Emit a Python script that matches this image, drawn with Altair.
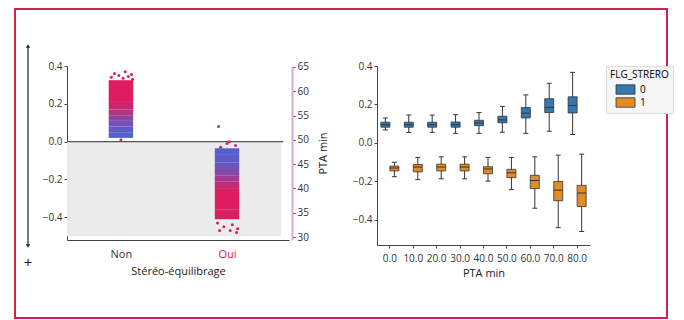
import altair as alt
import pandas as pd

# ---------- left panel data (strip of PTA-coloured points) ----------
seg_group = ["Non"] * 7 + ["Oui"] * 8
seg_y0 = [0.02, 0.05, 0.08, 0.11, 0.14, 0.17, 0.21,
          -0.035, -0.07, -0.11, -0.15, -0.18, -0.21, -0.25, -0.36]
seg_y1 = [0.05, 0.08, 0.11, 0.14, 0.17, 0.21, 0.325,
          -0.07, -0.11, -0.15, -0.18, -0.21, -0.25, -0.36, -0.41]
seg_pta = [31, 34, 38, 44, 52, 58, 62,
           31, 33, 37, 42, 48, 56, 62, 61]

pt_group = ["Non"] * 9 + ["Oui"] * 12
pt_y = [0.37, 0.36, 0.355, 0.35, 0.345, 0.34, 0.335, 0.33, 0.01,
        0.08, 0.0, -0.01, -0.03, -0.02, -0.43, -0.44, -0.45, -0.46, -0.47, -0.47, -0.48]
pt_jit = [0.04, -0.06, 0.10, -0.02, 0.07, -0.09, 0.02, 0.11, 0.0,
          -0.08, 0.02, 0.0, -0.06, 0.08, -0.09, 0.05, -0.03, 0.10, -0.07, 0.03, 0.09]
pt_pta = [63, 62, 64, 61, 63, 62, 60, 64, 58,
          47, 62, 60, 58, 61, 62, 63, 62, 64, 63, 62, 64]

pta_ticks = [30, 35, 40, 45, 50, 55, 60, 65]

# ---------- right panel data (box plots) ----------
cats = ["0.0", "10.0", "20.0", "30.0", "40.0", "50.0", "60.0", "70.0", "80.0"]
g0_lo = [0.068, 0.055, 0.055, 0.050, 0.050, 0.056, 0.050, 0.061, 0.044]
g0_q1 = [0.082, 0.082, 0.082, 0.082, 0.090, 0.105, 0.130, 0.158, 0.156]
g0_med = [0.095, 0.095, 0.095, 0.095, 0.104, 0.120, 0.155, 0.185, 0.195]
g0_q3 = [0.108, 0.108, 0.108, 0.109, 0.118, 0.139, 0.184, 0.230, 0.240]
g0_hi = [0.130, 0.145, 0.145, 0.147, 0.158, 0.190, 0.250, 0.310, 0.367]

g1_lo = [-0.175, -0.190, -0.186, -0.186, -0.198, -0.242, -0.339, -0.440, -0.460]
g1_q1 = [-0.145, -0.150, -0.145, -0.145, -0.160, -0.180, -0.237, -0.300, -0.330]
g1_med = [-0.130, -0.125, -0.125, -0.125, -0.135, -0.155, -0.195, -0.245, -0.260]
g1_q3 = [-0.120, -0.112, -0.110, -0.110, -0.123, -0.137, -0.168, -0.200, -0.220]
g1_hi = [-0.100, -0.075, -0.072, -0.072, -0.075, -0.075, -0.072, -0.063, -0.058]

RED = "#d6204e"
FONT = "Open Sans"

strip_df = pd.DataFrame({"grp": seg_group, "y0": seg_y0, "y1": seg_y1, "pta": seg_pta})
pts_df = pd.DataFrame({"grp": pt_group, "y": pt_y, "jit": pt_jit, "pta": pt_pta})

rows = []
for i, c in enumerate(cats):
    rows.append({"cat": c, "grp": "0", "lo": g0_lo[i], "q1": g0_q1[i], "med": g0_med[i], "q3": g0_q3[i], "hi": g0_hi[i]})
    rows.append({"cat": c, "grp": "1", "lo": g1_lo[i], "q1": g1_q1[i], "med": g1_med[i], "q3": g1_q3[i], "hi": g1_hi[i]})
box_df = pd.DataFrame(rows)

# ---------- left panel ----------
LW, LH = 222, 174
xs = alt.Scale(domain=[-0.508, 1.584], nice=False, zero=False)
ys = alt.Scale(domain=[-0.52, 0.4], nice=False, zero=False)
cs = alt.Scale(domain=[30, 65], range=["#4f63d2", "#eb1656"], interpolate="rgb")

xaxis = alt.Axis(values=[0, 1], labelExpr="datum.value == 0 ? 'Non' : 'Oui'",
                 title="Stéréo-équilibrage", ticks=False, labelPadding=8, titlePadding=6,
                 labelFontSize=11,
                 labelColor={"condition": {"test": "datum.value == 1", "value": RED}, "value": "#333333"})
yaxis = alt.Axis(values=[-0.4, -0.2, 0.0, 0.2, 0.4], format=".1f", title=None, tickSize=3)


def X(f):
    return alt.X(f, scale=xs, axis=xaxis)


def Y(f):
    return alt.Y(f, scale=ys, axis=yaxis)


one = alt.Data(values=[{}])

frame = alt.Chart(one).mark_rect(fill="white", fillOpacity=0, stroke=RED, strokeWidth=2).encode(
    x=alt.value(-52), x2=alt.value(600), y=alt.value(-57), y2=alt.value(252))
arrow = alt.Chart(one).mark_rule(color="#222", strokeWidth=1.2).encode(
    x=alt.value(-39), y=alt.value(-20), y2=alt.value(180))
arr_up = alt.Chart(one).mark_point(shape="triangle-up", filled=True, color="#222", size=18, opacity=1).encode(
    x=alt.value(-39), y=alt.value(-20))
arr_dn = alt.Chart(one).mark_point(shape="triangle-down", filled=True, color="#222", size=18, opacity=1).encode(
    x=alt.value(-39), y=alt.value(180))
plus = alt.Chart(one).mark_text(text="+", fontSize=15, color="#222", font=FONT).encode(
    x=alt.value(-39), y=alt.value(197))

shade = alt.Chart(alt.Data(values=[{"x0": -0.508, "x1": 1.51, "y0": 0.0, "y1": -0.5}])).mark_rect(
    color="#ebebeb").encode(x=X("x0:Q"), x2="x1:Q", y=Y("y0:Q"), y2="y1:Q")
zero = alt.Chart(alt.Data(values=[{"x0": -0.508, "x1": 1.53, "y": 0.0}])).mark_rule(
    color="#555", strokeWidth=1.2).encode(x=X("x0:Q"), x2="x1:Q", y=Y("y:Q"))

strip = alt.Chart(strip_df).transform_calculate(
    xa="(datum.grp == 'Non' ? 0 : 1) - 0.115", xb="(datum.grp == 'Non' ? 0 : 1) + 0.115"
).mark_rect().encode(
    x=X("xa:Q"), x2="xb:Q", y=Y("y0:Q"), y2="y1:Q",
    color=alt.Color("pta:Q", scale=cs, legend=None))

pts = alt.Chart(pts_df).transform_calculate(
    xp="(datum.grp == 'Non' ? 0 : 1) + datum.jit"
).mark_circle(size=9, opacity=1).encode(
    x=X("xp:Q"), y=Y("y:Q"), color=alt.Color("pta:Q", scale=cs, legend=None))

inner = alt.layer(frame, shade, zero, strip, pts, arrow, arr_up, arr_dn, plus)

pta_layer = alt.Chart(pd.DataFrame({"pta": pta_ticks})).mark_point(opacity=0).encode(
    x=alt.value(0),
    y=alt.Y("pta:Q", scale=alt.Scale(domain=[29.4, 65.2], nice=False, zero=False),
            axis=alt.Axis(orient="right", values=pta_ticks, title="PTA min", titleAngle=270,
                          titleBaseline="bottom",
                          domainColor="#dcaccb", domainWidth=2, offset=3, tickSize=3,
                          labelPadding=2, titlePadding=20)))

left = alt.layer(inner, pta_layer).resolve_scale(y="independent").properties(width=LW, height=LH)

# ---------- right panel ----------
RW, RH = 213, 179
yrs = alt.Scale(domain=[-0.53, 0.4], nice=False, zero=False)
yraxis = alt.Axis(values=[-0.4, -0.2, 0.0, 0.2, 0.4], format=".1f", title=None, tickSize=3)
xr = alt.X("cat:N", sort=cats, scale=alt.Scale(paddingInner=0, paddingOuter=0.05),
           axis=alt.Axis(title="PTA min", labelAngle=0, tickSize=3, labelPadding=5, titlePadding=4))
xo = alt.XOffset("grp:N", scale=alt.Scale(paddingOuter=0.3, paddingInner=0))
base = alt.Chart(box_df)
EDGE = "#353535"

whisk = base.mark_rule(color=EDGE, strokeWidth=1).encode(
    x=xr, xOffset=xo, y=alt.Y("lo:Q", scale=yrs, axis=yraxis), y2="hi:Q")
cap_lo = base.mark_tick(color=EDGE, size=5, thickness=1, opacity=1).encode(
    x=xr, xOffset=xo, y=alt.Y("lo:Q", scale=yrs, axis=yraxis))
cap_hi = base.mark_tick(color=EDGE, size=5, thickness=1, opacity=1).encode(
    x=xr, xOffset=xo, y=alt.Y("hi:Q", scale=yrs, axis=yraxis))
boxes = base.mark_bar(size=9, stroke=EDGE, strokeWidth=0.8).encode(
    x=xr, xOffset=xo, y=alt.Y("q1:Q", scale=yrs, axis=yraxis), y2="q3:Q",
    color=alt.Color("grp:N", scale=alt.Scale(domain=["0", "1"], range=["#3478b0", "#e38b24"]),
                    legend=alt.Legend(title="FLG_STRERO", orient="right", offset=16, padding=4,
                                      strokeColor="#dddddd", fillColor="#f6f6f6",
                                      symbolType="M-2,-1H2V1H-2Z", symbolSize=90,
                                      symbolStrokeColor=EDGE, symbolStrokeWidth=0.8,
                                      symbolOffset=10, labelOffset=9, labelFontSize=10,
                                      titleFontSize=10, titlePadding=4,
                                      titleFontWeight="normal", rowPadding=0,
                                      titleFont=FONT, labelFont=FONT)))
med = base.mark_tick(color=EDGE, size=9, thickness=1, opacity=1).encode(
    x=xr, xOffset=xo, y=alt.Y("med:Q", scale=yrs, axis=yraxis))

right = alt.layer(whisk, cap_lo, cap_hi, boxes, med).properties(width=RW, height=RH)

chart = alt.hconcat(left, right, spacing=88, bounds="flush").resolve_scale(
    x="independent", y="independent", color="independent"
).properties(
    padding={"left": 6, "top": 0, "right": 0, "bottom": 0}
).configure(font=FONT).configure_view(strokeWidth=0).configure_axis(
    grid=False, labelFont=FONT, titleFont=FONT, labelFontSize=10, titleFontSize=11,
    titleFontWeight="normal", labelColor="#333333", titleColor="#222222",
    domainColor="#444444", tickColor="#444444")

chart.save("out.html", embed_options={"renderer": "svg", "actions": False})
